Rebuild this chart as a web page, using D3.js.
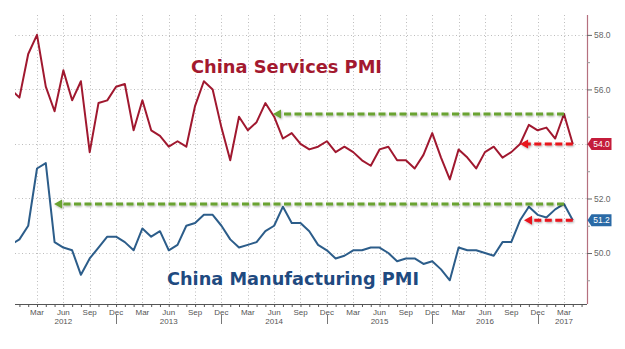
<!DOCTYPE html>
<html>
<head>
<meta charset="utf-8">
<script src="https://cdn.jsdelivr.net/npm/d3@7"></script>
<style>
  html, body { margin: 0; padding: 0; background: #fff; }
  svg { display: block; }
</style>
</head>
<body>
<svg id="chart" width="625" height="349"></svg>
<script>
// ---- DATA (monthly, index 0 = Dec 2011 ... index 64 = Apr 2017) ----
const monthNames = ["Jan","Feb","Mar","Apr","May","Jun","Jul","Aug","Sep","Oct","Nov","Dec"];
const firstMonth = { year: 2011, month: 11 }; // Dec 2011

const servicesPMI = [
  56.0,                                                            // Dec 2011
  55.7, 57.3, 58.0, 56.1, 55.2, 56.7, 55.6, 56.3, 53.7, 55.5, 55.6, 56.1, // 2012
  56.2, 54.5, 55.6, 54.5, 54.3, 53.9, 54.1, 53.9, 55.4, 56.3, 56.0, 54.6, // 2013
  53.4, 55.0, 54.5, 54.8, 55.5, 55.0, 54.2, 54.4, 54.0, 53.8, 53.9, 54.1, // 2014
  53.7, 53.9, 53.7, 53.4, 53.2, 53.8, 53.9, 53.4, 53.4, 53.1, 53.6, 54.4, // 2015
  53.5, 52.7, 53.8, 53.5, 53.1, 53.7, 53.9, 53.5, 53.7, 54.0, 54.7, 54.5, // 2016
  54.6, 54.2, 55.1, 54.0                                           // 2017
];
const manufacturingPMI = [
  50.3,
  50.5, 51.0, 53.1, 53.3, 50.4, 50.2, 50.1, 49.2, 49.8, 50.2, 50.6, 50.6,
  50.4, 50.1, 50.9, 50.6, 50.8, 50.1, 50.3, 51.0, 51.1, 51.4, 51.4, 51.0,
  50.5, 50.2, 50.3, 50.4, 50.8, 51.0, 51.7, 51.1, 51.1, 50.8, 50.3, 50.1,
  49.8, 49.9, 50.1, 50.1, 50.2, 50.2, 50.0, 49.7, 49.8, 49.8, 49.6, 49.7,
  49.4, 49.0, 50.2, 50.1, 50.1, 50.0, 49.9, 50.4, 50.4, 51.2, 51.7, 51.4,
  51.3, 51.6, 51.8, 51.2
];

const yTickValues = [50, 52, 54, 56, 58];
const yMinorTicks = [49, 51, 53, 55, 57];
const seriesTitles = ["China Services PMI", "China Manufacturing PMI"];
const lastLabels = ["54.0", "51.2"];

// annotation arrows (data space: month index and PMI level)
const greenArrows = [
  { fromIdx: 63, toIdx: 29.87, level: 55.1 },
  { fromIdx: 63, toIdx: 4.94, level: 51.8 }
];
const redArrows = [
  { fromIdx: 64, toIdx: 58.0, level: 54.0 },
  { fromIdx: 64, toIdx: 58.45, level: 51.2 }
];

// ---- LAYOUT ----
const plot = { left: 15, right: 587, top: 15, bottom: 304 };
const svg = d3.select("#chart");

const x = d3.scaleLinear().domain([0.495, 65.62]).range([plot.left, plot.right]);
const y = d3.scaleLinear().domain([48.13, 58.73]).range([plot.bottom, plot.top]);

const monthOf = i => (firstMonth.month + i) % 12;
const yearOf = i => firstMonth.year + Math.floor((firstMonth.month + i) / 12);

const allIdx = d3.range(servicesPMI.length + 1);
const quarterIdx = allIdx.filter(i => [2,5,8,11].includes(monthOf(i)) && x(i) >= plot.left && x(i) <= plot.right);

const defs = svg.append("defs");
defs.append("clipPath").attr("id", "plotClip").append("rect")
  .attr("x", plot.left).attr("y", plot.top)
  .attr("width", plot.right - plot.left).attr("height", plot.bottom - plot.top);
defs.append("clipPath").attr("id", "yearClip").append("rect")
  .attr("x", 0).attr("y", 0).attr("width", 625).attr("height", 324);
const shadow = defs.append("filter").attr("id", "shadow")
  .attr("x", "-10%").attr("y", "-100%").attr("width", "120%").attr("height", "300%");
shadow.append("feGaussianBlur").attr("in", "SourceAlpha").attr("stdDeviation", 1.2).attr("result", "b");
shadow.append("feOffset").attr("in", "b").attr("dx", 0.5).attr("dy", 1).attr("result", "o");
shadow.append("feComponentTransfer").attr("in", "o").attr("result", "o2")
  .append("feFuncA").attr("type", "linear").attr("slope", 0.35);
const merge = shadow.append("feMerge");
merge.append("feMergeNode").attr("in", "o2");
merge.append("feMergeNode").attr("in", "SourceGraphic");

// ---- GRID ----
const grid = svg.append("g").attr("stroke", "#bdbdbd").attr("stroke-width", 1)
  .attr("stroke-dasharray", "1,2.5");
grid.selectAll("line.v").data(quarterIdx).join("line")
  .attr("x1", d => Math.round(x(d)) + 0.5).attr("x2", d => Math.round(x(d)) + 0.5)
  .attr("y1", plot.top).attr("y2", plot.bottom);
grid.selectAll("line.h").data(yTickValues).join("line")
  .attr("x1", plot.left).attr("x2", plot.right)
  .attr("y1", d => Math.round(y(d)) + 0.5).attr("y2", d => Math.round(y(d)) + 0.5);

// ---- X AXIS ----
const xAxis = d3.axisBottom(x)
  .tickValues(allIdx.filter(i => x(i) >= plot.left && x(i) <= plot.right))
  .tickSize(3).tickSizeOuter(0).tickFormat("");
const gx = svg.append("g").attr("transform", `translate(0,${plot.bottom})`).call(xAxis);
gx.select(".domain").attr("stroke", "#555").attr("d", `M${plot.left},0.5H${plot.right}`);
gx.selectAll(".tick line").attr("stroke", "#555");

svg.append("g").selectAll("text").data(quarterIdx).join("text")
  .attr("x", d => x(d)).attr("y", 314.5)
  .attr("text-anchor", "middle")
  .attr("font-family", "Liberation Sans, Arial, sans-serif")
  .attr("font-size", 8).attr("fill", "#555")
  .text(d => monthNames[monthOf(d)]);

const yearIdx = quarterIdx.filter(i => monthOf(i) === 5 || (yearOf(i) === 2017 && monthOf(i) === 2));
svg.append("g").attr("clip-path", "url(#yearClip)").selectAll("text").data(yearIdx).join("text")
  .attr("x", d => x(d)).attr("y", 324)
  .attr("text-anchor", "middle")
  .attr("font-family", "Liberation Sans, Arial, sans-serif")
  .attr("font-size", 8).attr("fill", "#555")
  .text(d => yearOf(d));

const sepIdx = quarterIdx.filter(i => monthOf(i) === 11);
svg.append("g").attr("clip-path", "url(#yearClip)").selectAll("line").data(sepIdx).join("line")
  .attr("x1", d => Math.round(x(d)) + 0.5).attr("x2", d => Math.round(x(d)) + 0.5)
  .attr("y1", 315).attr("y2", 324).attr("stroke", "#777");

// ---- Y AXIS (right) ----
const yAxis = d3.axisRight(y).tickValues(yTickValues).tickFormat(d3.format(".1f"))
  .tickSize(5).tickPadding(2).tickSizeOuter(0);
const gy = svg.append("g").attr("transform", `translate(${plot.right},0)`).call(yAxis);
gy.select(".domain").attr("stroke", "#b5707f").attr("stroke-width", 1.2)
  .attr("d", `M0.5,${plot.top}V${plot.bottom}`);
gy.selectAll(".tick line").attr("stroke", "#666");
gy.selectAll(".tick text").attr("font-family", "Liberation Sans, Arial, sans-serif")
  .attr("font-size", 8.5).attr("fill", "#666");
const gyMinor = d3.axisRight(y).tickValues(yMinorTicks).tickSize(3).tickFormat("").tickSizeOuter(0);
const gm = svg.append("g").attr("transform", `translate(${plot.right},0)`).call(gyMinor);
gm.select(".domain").remove();
gm.selectAll(".tick line").attr("stroke", "#999");

// ---- LINES ----
const line = d3.line().x((d, i) => x(i)).y(d => y(d));
const lines = svg.append("g").attr("clip-path", "url(#plotClip)");
lines.append("path").datum(servicesPMI).attr("d", line)
  .attr("fill", "none").attr("stroke", "#a0182f").attr("stroke-width", 2).attr("stroke-linejoin", "round");
lines.append("path").datum(manufacturingPMI).attr("d", line)
  .attr("fill", "none").attr("stroke", "#2c5d8a").attr("stroke-width", 2).attr("stroke-linejoin", "round");

// ---- ARROWS ----
function drawArrow(a, color, dash) {
  const g = svg.append("g").attr("filter", "url(#shadow)");
  const y0 = y(a.level), xt = x(a.toIdx), xf = x(a.fromIdx);
  g.append("line").attr("x1", xf).attr("x2", xt + 7).attr("y1", y0).attr("y2", y0)
    .attr("stroke", color).attr("stroke-width", 3).attr("stroke-dasharray", dash);
  g.append("path")
    .attr("d", `M${xt},${y0} L${xt + 8},${y0 - 4.5} L${xt + 8},${y0 + 4.5} Z`)
    .attr("fill", color);
}
greenArrows.forEach(a => drawArrow(a, "#6aa333", "7,3.5"));
redArrows.forEach(a => drawArrow(a, "#e8121c", "7,3.5"));

// ---- LAST VALUE BADGES ----
const badgeData = [
  { value: servicesPMI[servicesPMI.length - 1], label: lastLabels[0], color: "#c41c3b" },
  { value: manufacturingPMI[manufacturingPMI.length - 1], label: lastLabels[1], color: "#2a6aa6" }
];
badgeData.forEach(b => {
  const cy = y(b.value), x0 = plot.right + 0.5;
  svg.append("path")
    .attr("d", `M${x0},${cy} L${x0 + 4},${cy - 6} L${x0 + 24},${cy - 6} L${x0 + 24},${cy + 6} L${x0 + 4},${cy + 6} Z`)
    .attr("fill", b.color);
  svg.append("text").attr("x", x0 + 14).attr("y", cy + 3.2)
    .attr("text-anchor", "middle")
    .attr("font-family", "Liberation Sans, Arial, sans-serif")
    .attr("font-size", 8.5).attr("fill", "#fff").text(b.label);
});

// ---- TITLES ----
svg.append("text").attr("x", 191).attr("y", 73)
  .attr("font-family", "DejaVu Sans, Verdana, sans-serif").attr("font-weight", "bold")
  .attr("font-size", 18.5).attr("fill", "#a3192f")
  .attr("textLength", 191).attr("lengthAdjust", "spacingAndGlyphs")
  .text(seriesTitles[0]);
svg.append("text").attr("x", 167).attr("y", 284.5)
  .attr("font-family", "DejaVu Sans, Verdana, sans-serif").attr("font-weight", "bold")
  .attr("font-size", 17.5).attr("fill", "#1f4a80")
  .attr("textLength", 252).attr("lengthAdjust", "spacingAndGlyphs")
  .text(seriesTitles[1]);
</script>
</body>
</html>
